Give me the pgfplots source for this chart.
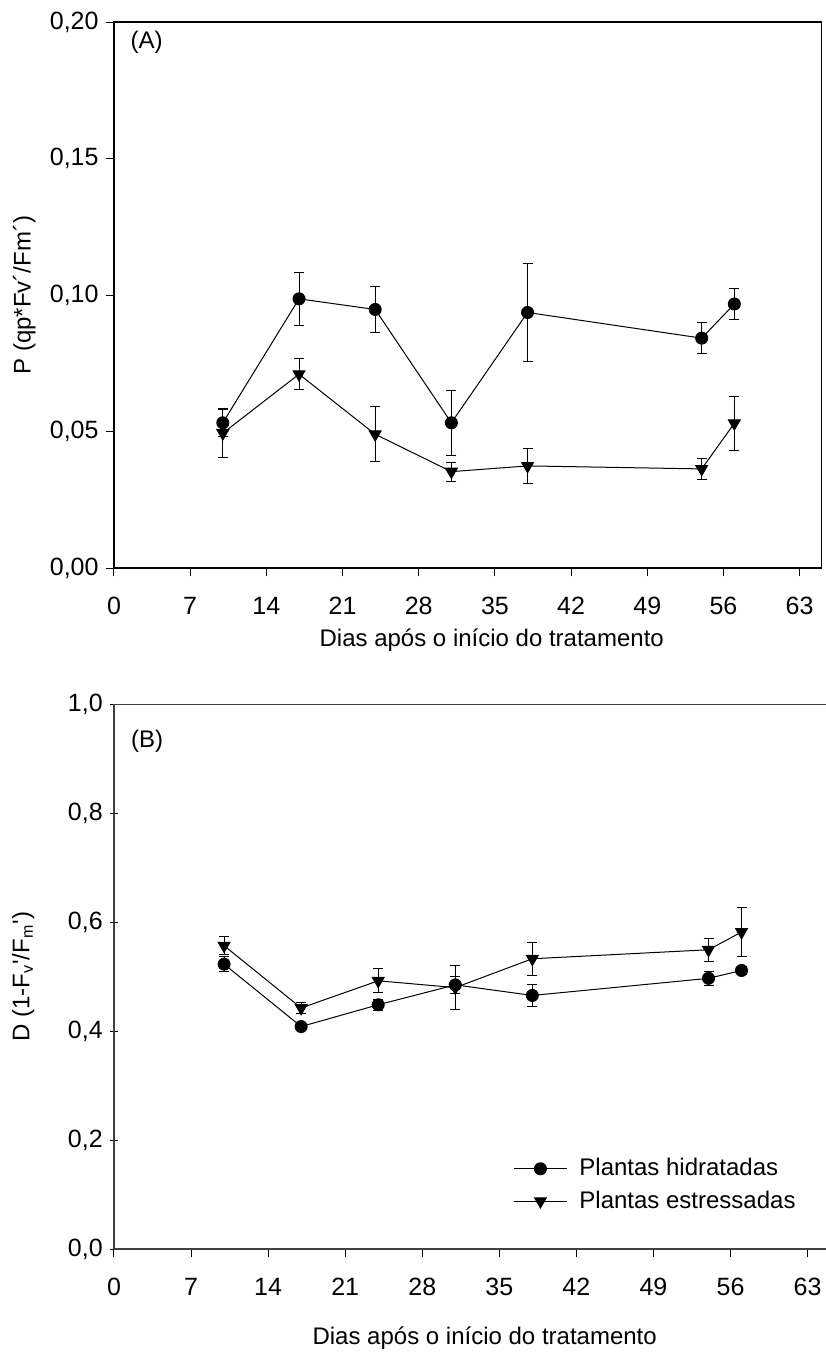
\documentclass[border=0pt]{standalone}
\usepackage{fontspec}
\setmainfont{Liberation Sans}
\usepackage{pgfplots}
\pgfplotsset{compat=1.18}

\pgfplotsset{
  panel/.style={
    scale only axis,
    xmin=0, xmax=65,
    xtick={0,7,14,21,28,35,42,49,56,63},
    tick align=outside, xtick pos=lower, ytick pos=left,
    major tick length=4.2pt,
    tick style={black, line width=0.5pt},
    axis line style={line width=0.6pt},
    every tick label/.append style={font=\fontsize{12.5}{14}\selectfont},
    xticklabel style={yshift=-7pt},
    label style={font=\fontsize{12}{14}\selectfont},
  },
  hid/.style={black, line width=0.5pt, mark=*, mark size=3pt,
    mark options={solid, fill=black},
    error bars/.cd, y dir=both, y explicit,
    error bar style={line width=0.5pt},
    error mark=-,
    error mark options={rotate=90, black, mark size=2.5pt, line width=0.5pt}},
  est/.style={black, line width=0.5pt, mark=triangle*, mark size=3.4pt,
    mark options={solid, fill=black, rotate=180},
    error bars/.cd, y dir=both, y explicit,
    error bar style={line width=0.5pt},
    error mark=-,
    error mark options={rotate=90, black, mark size=2.5pt, line width=0.5pt}},
}

\begin{document}
\begin{tikzpicture}
\useasboundingbox (0,0) rectangle (412.5pt,-677.5pt);

% (A)
\begin{axis}[panel,
  at={(57pt,-284pt)}, anchor=south west,
  width=353.7pt, height=273pt,
  ymin=0, ymax=0.2,
  ytick={0,0.05,0.1,0.15,0.2},
  yticklabel style={/pgf/number format/.cd, use comma, fixed, fixed zerofill, precision=2, assume math mode=true},
  xticklabel style={/pgf/number format/assume math mode=true},
  xlabel={Dias após o início do tratamento},
  ylabel={P (qp*Fv´/Fm´)},
  xlabel style={at={(axis description cs:0.534,-0.133)}, anchor=center, font=\fontsize{12}{14}\selectfont},
  ylabel style={at={(axis description cs:-0.127,0.5)}, anchor=center, font=\fontsize{12}{14}\selectfont},
]
\addplot[hid] coordinates {
  (10,0.0532) +- (0,0.0050)
  (17,0.0986) +- (0,0.0097)
  (24,0.0947) +- (0,0.0083)
  (31,0.0532) +- (0,0.0120)
  (38,0.0936) +- (0,0.0180)
  (54,0.0842) +- (0,0.0056)
  (57,0.0967) +- (0,0.0057)
};
\addplot[est] coordinates {
  (10,0.0494) +- (0,0.0090)
  (17,0.0710) +- (0,0.0056)
  (24,0.0490) +- (0,0.0100)
  (31,0.0353) +- (0,0.0035)
  (38,0.0374) +- (0,0.0063)
  (54,0.0363) +- (0,0.0037)
  (57,0.0530) +- (0,0.0100)
};
\node[font=\fontsize{12}{14}\selectfont] at (axis cs:3.0,0.1925) {(A)};
\end{axis}

% (B)
\begin{axis}[panel,
  at={(57pt,-624.5pt)}, anchor=south west,
  width=357.8pt, height=272.3pt,
  axis x line=box, axis y line=left,
  axis line style={-, line width=0.6pt, black!75},
  ymin=0, ymax=1,
  ytick={0,0.2,0.4,0.6,0.8,1},
  yticklabel style={/pgf/number format/.cd, use comma, fixed, fixed zerofill, precision=1, assume math mode=true},
  xticklabel style={/pgf/number format/assume math mode=true},
  xlabel={Dias após o início do tratamento},
  ylabel={D (1-F\textsubscript{v}\textquotesingle/F\textsubscript{m}\textquotesingle)},
  xlabel style={at={(axis description cs:0.518,-0.1636)}, anchor=center, font=\fontsize{12}{14}\selectfont},
  ylabel style={at={(axis description cs:-0.127,0.5)}, anchor=center, font=\fontsize{12}{14}\selectfont},
  legend style={draw=none, fill=none, at={(axis cs:35.7,0.1176)}, anchor=west,
    font=\fontsize{12}{14}\selectfont, row sep=2pt},
  legend cell align=left,
  legend image code/.code={\draw[mark repeat=2,mark phase=2] plot coordinates {(0pt,0pt) (13.25pt,0pt) (26.5pt,0pt)};
    \path (30.5pt,0pt);},
]
\addplot[hid] coordinates {
  (10,0.523) +- (0,0.014)
  (17,0.4085) +- (0,0.008)
  (24,0.4485) +- (0,0.010)
  (31,0.485) +- (0,0.015)
  (38,0.4656) +- (0,0.020)
  (54,0.497) +- (0,0.013)
  (57,0.5115) +- (0,0.008)
};
\addlegendentry{Plantas hidratadas}
\addplot[est] coordinates {
  (10,0.557) +- (0,0.017)
  (17,0.4426) +- (0,0.010)
  (24,0.4925) +- (0,0.022)
  (31,0.480) +- (0,0.040)
  (38,0.533) +- (0,0.030)
  (54,0.5495) +- (0,0.021)
  (57,0.582) +- (0,0.045)
};
\addlegendentry{Plantas estressadas}
\node[font=\fontsize{12}{14}\selectfont] at (axis cs:3.0,0.932) {(B)};
\end{axis}
\end{tikzpicture}
\end{document}
